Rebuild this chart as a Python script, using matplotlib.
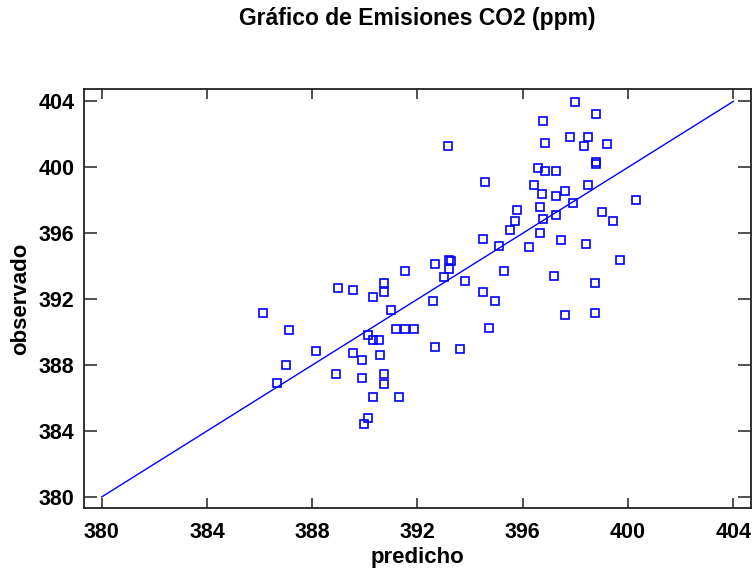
import numpy as np
import matplotlib.pyplot as plt

plt.rcParams['font.family'] = ['Liberation Sans', 'DejaVu Sans']

# predicted vs observed CO2 (ppm)
predicho = [
    386.13, 386.68, 387.02, 387.13, 388.14, 388.89, 388.97, 389.56, 389.56, 389.90,
    389.90, 390.11, 390.11, 389.97, 390.31, 390.31, 390.52, 390.57, 390.31, 390.71,
    390.71, 390.71, 390.71, 390.99, 391.18, 391.28, 391.52, 391.51, 391.85, 392.59,
    392.65, 392.66, 393.00, 393.20, 393.26, 393.19, 393.15, 393.60, 393.82, 394.49,
    394.49, 394.56, 394.70, 394.96, 395.11, 395.30, 395.50, 395.70, 395.77, 396.23,
    396.44, 396.58, 396.64, 396.64, 396.77, 396.77, 396.84, 396.84, 397.25, 396.73,
    397.25, 397.25, 397.17, 397.45, 397.59, 397.59, 397.78, 397.91, 398.00, 398.32,
    398.47, 398.47, 398.40, 398.80, 398.80, 398.80, 398.73, 398.74, 399.00, 399.20,
    399.41, 399.68, 400.29,
]
observado = [
    391.15, 386.93, 388.01, 390.15, 388.86, 387.48, 392.65, 392.53, 388.76, 388.33,
    387.23, 389.84, 384.77, 384.43, 392.11, 389.52, 389.52, 388.63, 386.06, 392.96,
    392.41, 387.48, 386.83, 391.33, 390.16, 386.06, 390.16, 393.73, 390.16, 391.88,
    394.16, 389.08, 393.32, 394.39, 394.33, 393.84, 401.28, 389.00, 393.08, 395.68,
    392.44, 399.13, 390.26, 391.88, 395.24, 393.73, 396.20, 396.75, 397.40, 395.14,
    398.91, 399.98, 397.61, 396.00, 396.87, 402.81, 401.50, 399.78, 399.78, 398.38,
    398.26, 397.10, 393.40, 395.57, 398.58, 391.03, 401.83, 397.83, 403.98, 401.28,
    401.83, 398.91, 395.36, 403.23, 400.33, 400.21, 392.98, 391.15, 397.30, 401.41,
    396.75, 394.39, 398.04,
]
ticks = [380, 384, 388, 392, 396, 400, 404]

BLUE = "#0000ff"

fig = plt.figure(figsize=(7.55, 5.74), dpi=100)
ax = fig.add_axes([84 / 755, 66 / 574, 667 / 755, 419 / 574])

# reference line observed = predicted
ax.plot([ticks[0], ticks[-1]], [ticks[0], ticks[-1]], color=BLUE, lw=1.0)
ax.plot(predicho, observado, ls="none", marker="s", ms=5.8, mfc="none",
        mec=BLUE, mew=1.2)

ax.set_xlim(379.33, 404.67)
ax.set_ylim(379.33, 404.75)
ax.set_xticks(ticks)
ax.set_yticks(ticks)
ax.tick_params(direction="in", width=1.1, top=True, right=True,
               labelsize=15.5, colors="#222222", labelcolor="black")
ax.tick_params(axis="x", length=7.2, pad=10)
ax.tick_params(axis="y", length=9.4, pad=7)
for lab in ax.get_xticklabels() + ax.get_yticklabels():
    lab.set_fontweight("bold")
for s in ax.spines.values():
    s.set_linewidth(1.3)
    s.set_color("#222222")

ax.set_xlabel("predicho", fontsize=16, fontweight="bold", labelpad=3)
ax.set_ylabel("observado", fontsize=16, fontweight="bold", labelpad=5)
fig.text(417.5 / 755, 1 - 19 / 574, "Gráfico de Emisiones CO2 (ppm)",
         ha="center", va="center", fontsize=16.5, fontweight="bold")

fig.savefig("out.png", dpi=100)
